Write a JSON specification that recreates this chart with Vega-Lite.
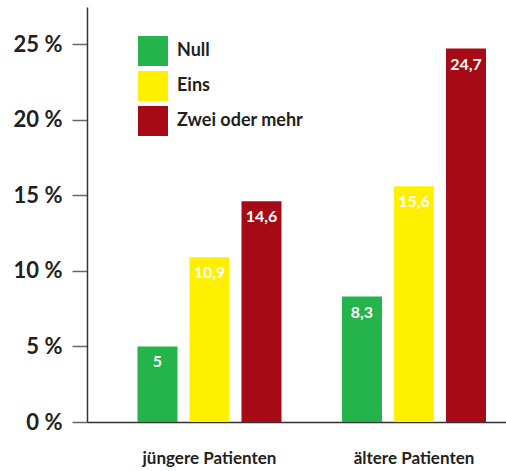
{
  "$schema": "https://vega.github.io/schema/vega-lite/v6.json",
  "width": 419,
  "height": 415,
  "autosize": {"type": "none"},
  "padding": {"left": 87, "top": 7, "right": 0, "bottom": 49},
  "background": "white",
  "data": {
    "values": [
      {"gruppe": "jüngere Patienten", "anzahl": "Null", "wert": 5, "label": "5"},
      {"gruppe": "jüngere Patienten", "anzahl": "Eins", "wert": 10.9, "label": "10,9"},
      {"gruppe": "jüngere Patienten", "anzahl": "Zwei oder mehr", "wert": 14.6, "label": "14,6"},
      {"gruppe": "ältere Patienten", "anzahl": "Null", "wert": 8.3, "label": "8,3"},
      {"gruppe": "ältere Patienten", "anzahl": "Eins", "wert": 15.6, "label": "15,6"},
      {"gruppe": "ältere Patienten", "anzahl": "Zwei oder mehr", "wert": 24.7, "label": "24,7"}
    ]
  },
  "encoding": {
    "x": {
      "field": "gruppe", "type": "nominal", "sort": ["jüngere Patienten", "ältere Patienten"],
      "scale": {"paddingInner": 0.1, "paddingOuter": 0.0745, "align": 1},
      "axis": {
        "title": null, "labelAngle": 0, "ticks": false, "labelPadding": 28, "labelBaseline": "top",
        "labelFont": "Lato", "labelFontWeight": "bold", "labelFontSize": 17, "labelColor": "#231f20",
        "domainColor": "#333333", "domainWidth": 1.5
      }
    },
    "xOffset": {
      "field": "anzahl", "type": "nominal", "sort": ["Null", "Eins", "Zwei oder mehr"],
      "scale": {"paddingInner": 0.2308, "paddingOuter": 0.385}
    },
    "y": {
      "field": "wert", "type": "quantitative",
      "scale": {"domain": [0, 27.45], "nice": false},
      "axis": {
        "title": null, "values": [0, 5, 10, 15, 20, 25], "grid": false,
        "labelExpr": "datum.value + ' %'",
        "labelFont": "Lato", "labelFontWeight": "bold", "labelFontSize": 22, "labelColor": "#231f20",
        "labelPadding": 10, "tickSize": 15, "tickColor": "#666666", "tickWidth": 1.5,
        "domainColor": "#333333", "domainWidth": 1.5
      }
    }
  },
  "layer": [
    {
      "mark": {"type": "bar"},
      "encoding": {
        "color": {
          "field": "anzahl", "type": "nominal", "sort": ["Null", "Eins", "Zwei oder mehr"],
          "scale": {"domain": ["Null", "Eins", "Zwei oder mehr"], "range": ["#25b34b", "#fff000", "#a60a16"]},
          "legend": {
            "title": null, "orient": "none", "legendX": 51, "legendY": 29,
            "symbolType": "square", "symbolSize": 900, "symbolStrokeWidth": 0, "symbolOpacity": 1,
            "rowPadding": 5, "labelOffset": 9,
            "labelFont": "Lato", "labelFontWeight": "bold", "labelFontSize": 18, "labelColor": "#231f20"
          }
        }
      }
    },
    {
      "mark": {"type": "text", "baseline": "top", "dy": 8, "font": "Lato", "fontWeight": "bold", "fontSize": 16, "color": "white"},
      "encoding": {"text": {"field": "label"}}
    }
  ],
  "config": {"view": {"stroke": null}}
}
